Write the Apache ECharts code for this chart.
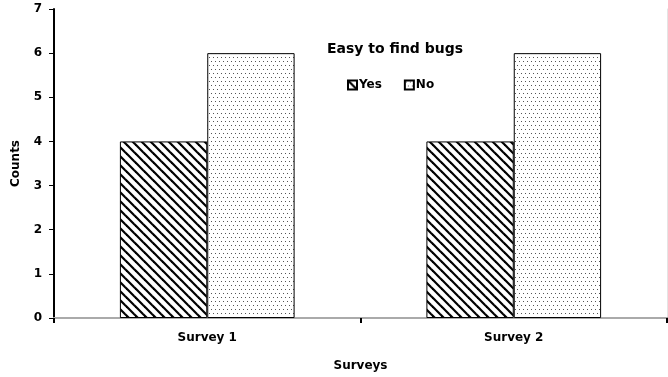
<!DOCTYPE html>
<html>
<head>
<meta charset="utf-8">
<style>
  html, body { margin: 0; padding: 0; background: #fff; }
  #chart { width: 668px; height: 377px; }
</style>
<script src="https://cdn.jsdelivr.net/npm/echarts@6/dist/echarts.min.js"></script>
</head>
<body>
<div id="chart"></div>
<script>
// Survey answers: "Easy to find bugs"
const categories = ['Survey 1', 'Survey 2'];
const yesCounts = [4, 4];
const noCounts = [6, 6];
const yTicks = [0, 1, 2, 3, 4, 5, 6, 7];

const FONT = '"DejaVu Sans", Verdana, sans-serif';

// Diagonal hatch tile ("\" direction)
function hatchTile() {
  const s = 9;
  const c = document.createElement('canvas');
  c.width = s; c.height = s;
  const g = c.getContext('2d');
  g.fillStyle = '#fff';
  g.fillRect(0, 0, s, s);
  g.strokeStyle = '#000';
  g.lineWidth = 2.2;
  g.lineCap = 'square';
  for (let k = -1; k <= 1; k++) {
    g.beginPath();
    g.moveTo(k * s - 2, -2);
    g.lineTo(k * s + s + 2, s + 2);
    g.stroke();
  }
  return c;
}

// Sparse dot tile
function dotTile() {
  const s = 8;
  const c = document.createElement('canvas');
  c.width = s; c.height = s;
  const g = c.getContext('2d');
  g.fillStyle = '#fff';
  g.fillRect(0, 0, s, s);
  g.fillStyle = '#555';
  g.fillRect(1, 1, 1, 1);
  g.fillRect(5, 1, 1, 1);
  g.fillRect(3, 5, 1, 1);
  g.fillRect(7, 5, 1, 1);
  return c;
}

const hatchFill = { image: hatchTile(), repeat: 'repeat' };
const dotFill = { image: dotTile(), repeat: 'repeat' };

const chart = echarts.init(document.getElementById('chart'), null, { renderer: 'canvas' });

chart.setOption({
  animation: false,
  backgroundColor: '#fff',
  title: {
    text: 'Easy to find bugs',
    left: 322,
    top: 37,
    textStyle: { fontFamily: FONT, fontWeight: 'bold', fontSize: 14, color: '#000' }
  },
  legend: {
    top: 74,
    left: 342,
    itemWidth: 9,
    itemHeight: 9,
    itemGap: 22,
    icon: 'rect',
    textStyle: { fontFamily: FONT, fontWeight: 'bold', fontSize: 12, color: '#000', padding: [0, 0, 0, -3] },
    data: ['Yes', 'No']
  },
  grid: { left: 54, right: 1, top: 9, bottom: 59, containLabel: false },
  xAxis: [
    {
      type: 'category',
      data: categories,
      name: 'Surveys',
      nameLocation: 'middle',
      nameGap: 42,
      nameTextStyle: { fontFamily: FONT, fontWeight: 'bold', fontSize: 12, color: '#000' },
      axisLine: { lineStyle: { color: '#555', width: 2 } },
      axisTick: { show: true, alignWithLabel: false, length: 5, lineStyle: { color: '#000', width: 2 } },
      axisLabel: { fontFamily: FONT, fontWeight: 'bold', fontSize: 12, color: '#000', margin: 14 }
    },
    {
      type: 'category',
      data: categories,
      position: 'top',
      axisLine: { lineStyle: { color: '#aaa', width: 2 } },
      axisTick: { show: false },
      axisLabel: { show: false }
    }
  ],
  yAxis: [
    {
      type: 'value',
      min: yTicks[0],
      max: yTicks[yTicks.length - 1],
      interval: 1,
      name: 'Counts',
      nameLocation: 'middle',
      nameGap: 32,
      nameRotate: 90,
      nameTextStyle: { fontFamily: FONT, fontWeight: 'bold', fontSize: 12, color: '#000' },
      axisLine: { show: true, lineStyle: { color: '#000', width: 2 } },
      axisTick: { show: true, length: 5, lineStyle: { color: '#000', width: 1 } },
      axisLabel: { fontFamily: FONT, fontWeight: 'bold', fontSize: 12, color: '#000', margin: 12 },
      splitLine: { show: false }
    },
    {
      type: 'value',
      min: yTicks[0],
      max: yTicks[yTicks.length - 1],
      interval: 1,
      position: 'right',
      axisLine: { show: true, lineStyle: { color: '#e4e4e4', width: 1 } },
      axisTick: { show: false },
      axisLabel: { show: false },
      splitLine: { show: false }
    }
  ],
  series: [
    {
      name: 'Yes',
      type: 'bar',
      data: yesCounts,
      barCategoryGap: '43%',
      barGap: '0%',
      itemStyle: { color: hatchFill, borderColor: '#000', borderWidth: 1 }
    },
    {
      name: 'No',
      type: 'bar',
      data: noCounts,
      barCategoryGap: '43%',
      barGap: '0%',
      itemStyle: { color: dotFill, borderColor: '#000', borderWidth: 1 }
    }
  ]
});
</script>
</body>
</html>
